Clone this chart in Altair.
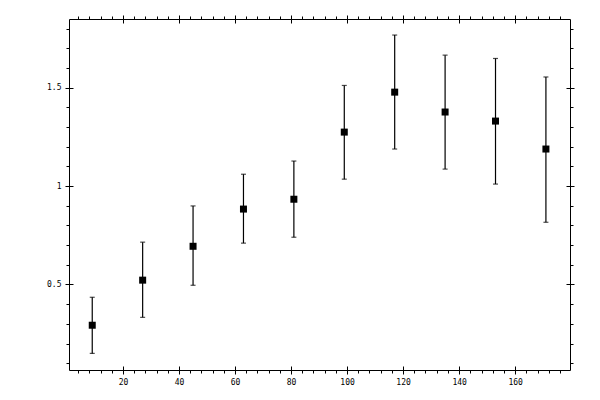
import altair as alt
import pandas as pd

# data
xs = [9, 27, 45, 63, 81, 99, 117, 135, 153, 171]
ys = [0.293, 0.522, 0.694, 0.883, 0.933, 1.274, 1.477, 1.376, 1.330, 1.188]
his = [0.435, 0.715, 0.899, 1.060, 1.127, 1.511, 1.767, 1.665, 1.648, 1.554]
los = [0.150, 0.333, 0.496, 0.710, 0.740, 1.035, 1.188, 1.086, 1.010, 0.816]

x_major = [20, 40, 60, 80, 100, 120, 140, 160]
x_minor = list(range(4, 180, 4))
y_major = [0.5, 1.0, 1.5]
y_minor = [round(0.1 * i, 1) for i in range(1, 19)]

x_domain = [0.7, 179.6]
y_domain = [0.0656, 1.8485]

df = pd.DataFrame({"x": xs, "y": ys, "hi": his, "lo": los})

FONT = "DejaVu Sans Mono"
LW = 1.2


def minor_axis(orient, values):
    return alt.Axis(orient=orient, values=values, tickSize=3, labels=False,
                    domain=True, domainColor="black", domainWidth=1,
                    tickColor="black", tickWidth=1, grid=False, title=None)


def major_axis(orient, values, labels, fmt):
    kw = dict(orient=orient, values=values, tickSize=8, offset=-4,
              labels=labels, domain=False, tickColor="black", tickWidth=1,
              grid=False, title=None, labelFont=FONT, labelFontSize=8,
              labelColor="black", labelPadding=4, format=fmt)
    return alt.Axis(**kw)


xs_scale = alt.Scale(domain=x_domain, nice=False, zero=False)
ys_scale = alt.Scale(domain=y_domain, nice=False, zero=False)

base = alt.Chart(df)

rules = base.mark_rule(color="black", strokeWidth=LW).encode(
    x=alt.X("x:Q", scale=xs_scale, axis=minor_axis("bottom", x_minor)),
    y=alt.Y("lo:Q", scale=ys_scale, axis=minor_axis("left", y_minor)),
    y2="hi:Q",
)

caps_hi = base.mark_tick(color="black", orient="horizontal", size=5, thickness=LW).encode(
    x=alt.X("x:Q", scale=xs_scale, axis=major_axis("bottom", x_major, True, "d")),
    y=alt.Y("hi:Q", scale=ys_scale, axis=major_axis("left", y_major, True, "~g")),
)

caps_lo = base.mark_tick(color="black", orient="horizontal", size=5, thickness=LW).encode(
    x=alt.X("x:Q", scale=xs_scale, axis=minor_axis("top", x_minor)),
    y=alt.Y("lo:Q", scale=ys_scale, axis=minor_axis("right", y_minor)),
)

points = base.mark_square(color="black", size=49, opacity=1).encode(
    x=alt.X("x:Q", scale=xs_scale, axis=major_axis("top", x_major, False, "d")),
    y=alt.Y("y:Q", scale=ys_scale, axis=major_axis("right", y_major, False, "~g")),
)

chart = alt.layer(rules, caps_hi, caps_lo, points).resolve_axis(
    x="independent", y="independent"
).properties(
    width=501, height=351,
    autosize=alt.AutoSizeParams(type="none"),
    padding={"left": 61, "top": 11, "right": 22, "bottom": 22},
    background="white",
).configure_view(stroke=None)

chart.save("out.html", embed_options={"renderer": "svg", "actions": False})
